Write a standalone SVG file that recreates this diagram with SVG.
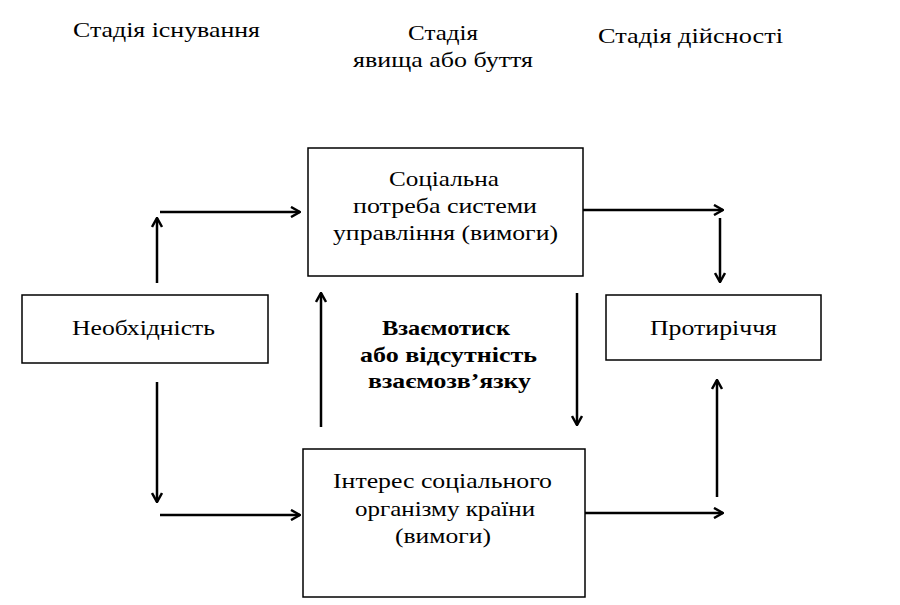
<svg xmlns="http://www.w3.org/2000/svg" width="900" height="605" viewBox="0 0 900 605">
<style>
text{font-family:"Liberation Serif","Times New Roman","DejaVu Serif",serif;font-size:22px;fill:#000;text-anchor:middle}
.b{font-weight:bold}
rect{fill:#fff;stroke:#000;stroke-width:1.5}
.c line{stroke:#000;stroke-width:2.5;fill:none}
</style>
<defs>
<marker id="ah" viewBox="0 0 12 12" refX="11" refY="6" markerWidth="12" markerHeight="12" markerUnits="userSpaceOnUse" orient="auto">
<polyline points="2,1 11,6 2,11" fill="none" stroke="#000" stroke-width="2.5"/>
</marker>
</defs>
<rect width="900" height="605" style="fill:#fff;stroke:none"/>
<g id="stages">
<text x="166.5" y="37" textLength="187" lengthAdjust="spacingAndGlyphs">Стадія існування</text>
<text x="443" y="40" textLength="70" lengthAdjust="spacingAndGlyphs">Стадія</text>
<text x="443" y="67" textLength="180" lengthAdjust="spacingAndGlyphs">явища або буття</text>
<text x="690.5" y="43" textLength="185" lengthAdjust="spacingAndGlyphs">Стадія дійсності</text>
</g>
<g id="node-need">
<rect x="22" y="295" width="246" height="68"/>
<text x="143.5" y="335" textLength="143" lengthAdjust="spacingAndGlyphs">Необхідність</text>
</g>
<g id="node-social">
<rect x="308" y="148" width="275" height="128"/>
<text x="444" y="186" textLength="110" lengthAdjust="spacingAndGlyphs">Соціальна</text>
<text x="445" y="213" textLength="184" lengthAdjust="spacingAndGlyphs">потреба системи</text>
<text x="445.5" y="240" textLength="225" lengthAdjust="spacingAndGlyphs">управління (вимоги)</text>
</g>
<g id="node-interest">
<rect x="303" y="449" width="282" height="148"/>
<text x="442.5" y="488" textLength="219" lengthAdjust="spacingAndGlyphs">Інтерес соціального</text>
<text x="445" y="516" textLength="180" lengthAdjust="spacingAndGlyphs">організму країни</text>
<text x="443" y="543" textLength="96" lengthAdjust="spacingAndGlyphs">(вимоги)</text>
</g>
<g id="node-contradiction">
<rect x="606" y="295" width="215" height="65"/>
<text x="713.5" y="335" textLength="127" lengthAdjust="spacingAndGlyphs">Протиріччя</text>
</g>
<g id="center-label">
<text class="b" x="446" y="335" textLength="128" lengthAdjust="spacingAndGlyphs">Взаємотиск</text>
<text class="b" x="448.5" y="362" textLength="177" lengthAdjust="spacingAndGlyphs">або відсутність</text>
<text class="b" x="449.5" y="388" textLength="163" lengthAdjust="spacingAndGlyphs">взаємозв’язку</text>
</g>
<g class="c" id="connectors">
<line x1="157" y1="283" x2="157" y2="218" marker-end="url(#ah)"/>
<line x1="160" y1="212" x2="300" y2="212" marker-end="url(#ah)"/>
<line x1="583" y1="210" x2="723" y2="210" marker-end="url(#ah)"/>
<line x1="720" y1="218" x2="720" y2="282" marker-end="url(#ah)"/>
<line x1="157" y1="382" x2="157" y2="502" marker-end="url(#ah)"/>
<line x1="160" y1="515" x2="300" y2="515" marker-end="url(#ah)"/>
<line x1="585" y1="513" x2="723" y2="513" marker-end="url(#ah)"/>
<line x1="717" y1="497" x2="717" y2="380" marker-end="url(#ah)"/>
<line x1="321" y1="427" x2="321" y2="293" marker-end="url(#ah)"/>
<line x1="577" y1="293" x2="577" y2="425" marker-end="url(#ah)"/>
</g>
</svg>
